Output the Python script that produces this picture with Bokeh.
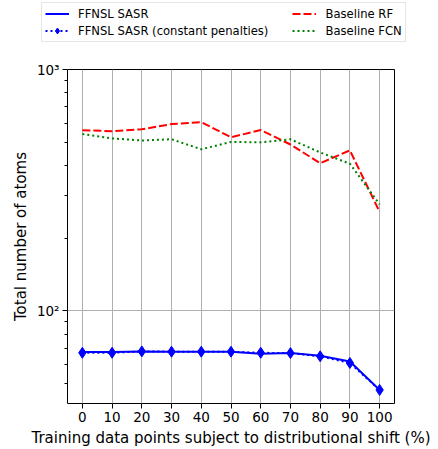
from bokeh.plotting import figure
from bokeh.models import Range1d, Legend, LegendItem, FixedTicker
from bokeh.embed import file_html
from bokeh.resources import INLINE

shift_pct = [0, 10, 20, 30, 40, 50, 60, 70, 80, 90, 100]
sasr = [67.5, 67.5, 67.9, 67.7, 67.7, 67.7, 66.4, 66.8, 65.2, 61.7, 47.0]
sasr_const = [67.0, 67.0, 67.9, 67.7, 67.7, 67.7, 67.0, 66.8, 64.8, 60.8, 47.0]
baseline_rf = [560, 555, 565, 594, 605, 524, 561, 489, 409, 462, 257]
baseline_fcn = [540, 518, 508, 514, 467, 501, 499, 514, 453, 407, 276]

y_major = [100, 1000]
y_minor = [50, 60, 70, 80, 90, 200, 300, 400, 500, 600, 700, 800, 900]
y_labels = {100: "10²", 1000: "10³"}

FONT = "DejaVu Sans"

STYLES = {
    "sasr": dict(color="blue", line_width=2),
    "const": dict(color="blue", line_width=2, line_dash="2 3"),
    "rf": dict(color="red", line_width=2, line_dash="8 3"),
    "fcn": dict(color="green", line_width=2, line_dash="2 3"),
}
MARKER = dict(marker="diamond", size=11, color="blue")


def draw_series(fig, xs, ys_sasr, ys_const, ys_rf, ys_fcn):
    r1 = fig.line(xs, ys_sasr, **STYLES["sasr"])
    r2 = fig.line(xs, ys_const, **STYLES["const"])
    r3 = fig.scatter(xs, ys_const, **MARKER)
    r4 = fig.line(xs, ys_rf, **STYLES["rf"])
    r5 = fig.line(xs, ys_fcn, **STYLES["fcn"])
    return r1, (r2, r3), r4, r5


# legend strip, rendered as its own root above the chart
lg = figure(width=438, height=55, x_range=Range1d(0, 1), y_range=Range1d(0, 1),
            output_backend="svg", toolbar_location=None,
            x_axis_location=None, y_axis_location=None,
            min_border=0)
lg.outline_line_color = None
lg.xgrid.visible = False
lg.ygrid.visible = False
nan = [float("nan")]
l_sasr, (l_const, l_pts), l_rf, l_fcn = draw_series(lg, nan, nan, nan, nan, nan)

# trailing no-break spaces widen the first column
gap = "\u00a0" * 6
legend = Legend(items=[
    LegendItem(label="FFNSL SASR", renderers=[l_sasr]),
    LegendItem(label="FFNSL SASR (constant penalties)" + gap, renderers=[l_const, l_pts]),
    LegendItem(label="Baseline RF", renderers=[l_rf]),
    LegendItem(label="Baseline FCN", renderers=[l_fcn]),
], ncols=2, location=(41, 13))
legend.label_text_font = FONT
legend.label_text_font_size = "11.6px"
legend.label_text_color = "black"
legend.label_height = 15
legend.glyph_height = 15
legend.glyph_width = 24
legend.label_standoff = 9
legend.spacing = 2
legend.padding = 3
legend.margin = 0
legend.border_line_color = "#cccccc"
legend.border_line_width = 1
legend.background_fill_alpha = 1.0
lg.add_layout(legend, "center")

# main chart
p = figure(width=438, height=394, y_axis_type="log",
           x_range=Range1d(-5, 105), y_range=Range1d(41.3, 1000),
           output_backend="svg", toolbar_location=None,
           min_border_left=67, min_border_right=44,
           min_border_top=14, min_border_bottom=45)
p.outline_line_color = "black"
p.outline_line_width = 1

draw_series(p, shift_pct, sasr, sasr_const, baseline_rf, baseline_fcn)

p.xaxis.ticker = FixedTicker(ticks=shift_pct)
p.yaxis.ticker = FixedTicker(ticks=y_major, minor_ticks=y_minor)
p.yaxis.major_label_overrides = y_labels
p.xaxis.axis_label = "Training data points subject to distributional shift (%)"
p.yaxis.axis_label = "Total number of atoms"
for ax in (p.xaxis, p.yaxis):
    ax.axis_label_text_font = FONT
    ax.axis_label_text_font_style = "normal"
    ax.axis_label_text_font_size = "15px"
    ax.axis_label_text_color = "black"
    ax.major_label_text_font = FONT
    ax.major_label_text_font_size = "13.5px"
    ax.major_label_text_color = "black"
    ax.axis_line_color = None
    ax.major_tick_line_color = "black"
    ax.major_tick_in = 0
    ax.major_tick_out = 5
    ax.major_label_standoff = 3
    ax.axis_label_standoff = 4
p.xaxis.minor_tick_line_color = None
p.yaxis.minor_tick_line_color = "black"
p.yaxis.minor_tick_in = 0
p.yaxis.minor_tick_out = 3

p.xgrid.grid_line_color = "#b0b0b0"
p.ygrid.grid_line_color = "#b0b0b0"

open("out.html", "w").write(file_html([lg, p], INLINE))
